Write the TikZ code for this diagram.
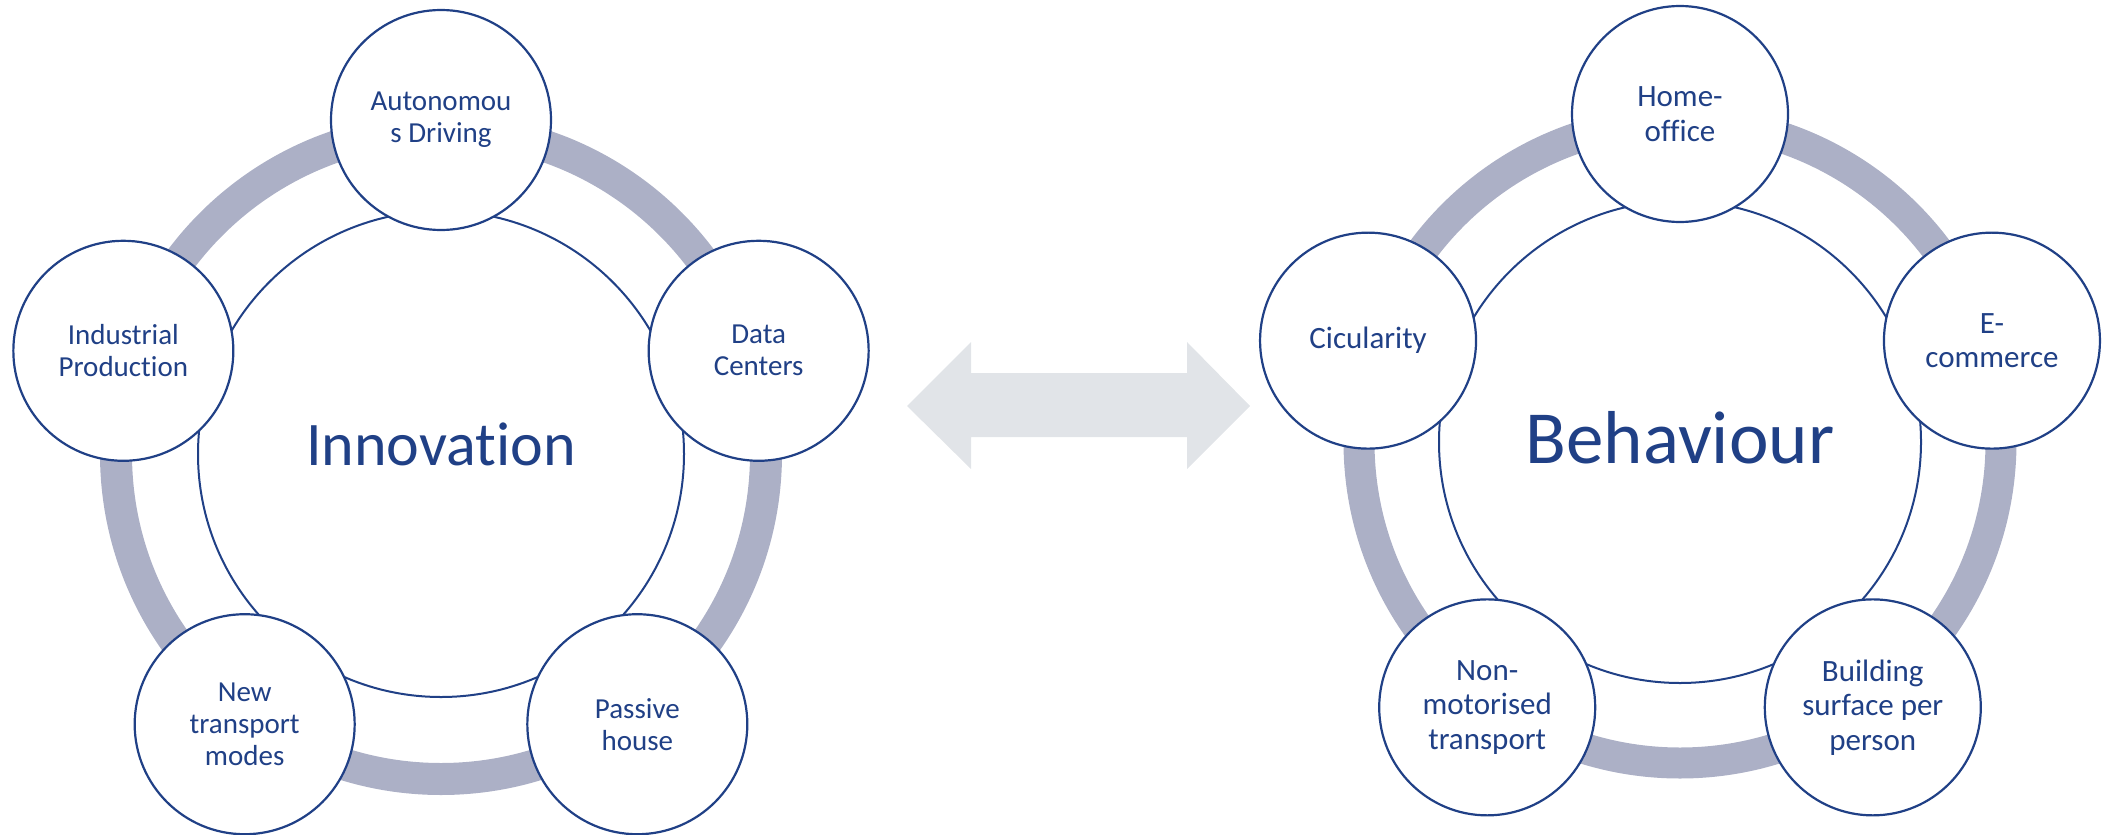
\documentclass[tikz,border=0pt]{standalone}
\usepackage{fontspec}
\setmainfont{Carlito}[Ligatures={NoCommon,NoContextual}]
\definecolor{inkblue}{RGB}{32,64,134}
\definecolor{ringgray}{RGB}{172,176,198}
\definecolor{arrowgray}{RGB}{225,228,232}
\tikzset{
  ring/.style={draw=ringgray,line width=32pt},
  hub/.style={draw=inkblue,fill=white,line width=2pt},
  bubble/.style={circle,draw=inkblue,fill=white,line width=2.2pt,inner sep=0pt,
    minimum size=220pt,align=center,text=inkblue,font=\fontsize{29}{32}\selectfont},
  bubbleR/.style={bubble,minimum size=216pt,font=\fontsize{31}{34.5}\selectfont},
  title/.style={text=inkblue,anchor=base,inner sep=0pt}
}
\begin{document}
\begin{tikzpicture}[x=1pt,y=1pt]
  \useasboundingbox (0,0) rectangle (2102,-835);
  % innovation side
  \begin{scope}[shift={(441,-454)}]
    \draw[ring] (0,0) circle[radius=325];
    \draw[hub] (0,0) circle[radius=243];
    \node[title,font=\fontsize{62}{70}\selectfont] (inno) at (0,-11) {Innovation};
    \draw
      (90:334) node[bubble] (auto){Autonomou\\s Driving}
      (18:334) node[bubble] (data){Data\\Centers}
      (-54:334) node[bubble] (pass){Passive\\house}
      (-126:334) node[bubble] (newt){New\\transport\\modes}
      (162:334) node[bubble] (indu){Industrial\\Production};
  \end{scope}
  % behaviour side
  \begin{scope}[shift={(1680,-442)}]
    \draw[ring,line width=31pt] (0,0) circle[radius=321];
    \draw[hub] (0,0) circle[radius=241];
    \node[title,font=\fontsize{75}{84}\selectfont] (beha) at (0,-21) {Behaviour};
    \draw
      (90:328) node[bubbleR] (home){Home-\\office}
      (18:328) node[bubbleR] (ecom){E-\\commerce}
      (-54:328) node[bubbleR] (buil){Building\\surface per\\person}
      (-126:328) node[bubbleR] (nonm){Non-\\motorised\\transport}
      (162:328) node[bubbleR] (cicu){Cicularity};
  \end{scope}
  % double arrow between the two
  \fill[arrowgray] (907,-406) -- (971,-342) -- (971,-373) -- (1187,-373)
    -- (1187,-342) -- (1250,-406) -- (1187,-469) -- (1187,-437)
    -- (971,-437) -- (971,-469) -- cycle;
\end{tikzpicture}
\end{document}
